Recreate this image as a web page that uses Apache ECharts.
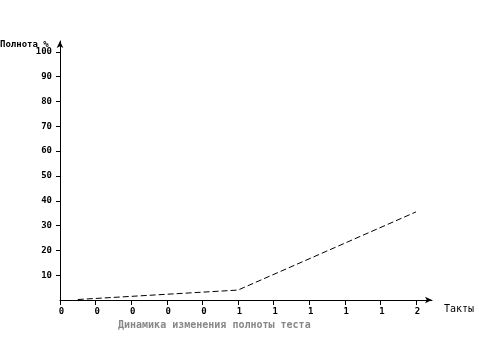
<!DOCTYPE html>
<html><head><meta charset="utf-8">
<script src="https://cdn.jsdelivr.net/npm/echarts@6/dist/echarts.min.js"></script>
<style>html,body{margin:0;padding:0;background:#fff}#c{width:479px;height:353px}</style>
</head><body><div id="c"></div>
<script>
const xValues = [0.1, 1.0, 2.0];
const yValues = [0.2, 4.0, 35.5];
const xTickValues = [0, 0.2, 0.4, 0.6, 0.8, 1.0, 1.2, 1.4, 1.6, 1.8, 2.0];
const yTickValues = [10, 20, 30, 40, 50, 60, 70, 80, 90, 100];
const yAxisTitle = 'Полнота %';
const xAxisTitle = 'Такты';
const chartTitle = 'Динамика изменения полноты теста';

const font = 'DejaVu Sans Mono';
const chart = echarts.init(document.getElementById('c'));
chart.setOption({
  animation: false,
  grid: {left: 60, right: 47, top: 41, bottom: 53, containLabel: false},
  xAxis: {
    type: 'value', min: 0, max: 2.09,
    splitLine: {show: false},
    axisLine: {lineStyle: {color: '#000', width: 1}, symbol: ['none', 'arrow'], symbolSize: [5, 7]},
    axisTick: {customValues: xTickValues, length: 5, lineStyle: {color: '#000'}},
    axisLabel: {customValues: xTickValues, formatter: v => String(Math.floor(v + 1e-9)),
      color: '#000', fontFamily: font, fontWeight: 'bold', fontSize: 9, margin: 7, padding: [0, 0, 0, 3]}
  },
  yAxis: {
    type: 'value', min: 0, max: 104.4,
    splitLine: {show: false},
    axisLine: {show: true, lineStyle: {color: '#000', width: 1}, symbol: ['none', 'arrow'], symbolSize: [5, 7]},
    axisTick: {show: true, customValues: yTickValues, length: 4, lineStyle: {color: '#000'}},
    axisLabel: {customValues: yTickValues, color: '#000', fontFamily: font, fontWeight: 'bold', fontSize: 9, margin: 8}
  },
  series: [{
    type: 'line',
    data: xValues.map((x, i) => [x, yValues[i]]),
    symbol: 'none',
    lineStyle: {color: '#000', width: 1, type: [6, 3]}
  }],
  graphic: [
    {type: 'text', left: 0, top: 40, style: {text: yAxisTitle, fill: '#000', font: 'bold 9px "DejaVu Sans Mono"'}},
    {type: 'text', left: 444, top: 304, style: {text: xAxisTitle, fill: '#000', font: '10px "DejaVu Sans Mono"'}},
    {type: 'text', left: 118, top: 320, style: {text: chartTitle, fill: '#888', font: 'bold 10px "DejaVu Sans Mono"'}}
  ]
});
</script></body></html>
